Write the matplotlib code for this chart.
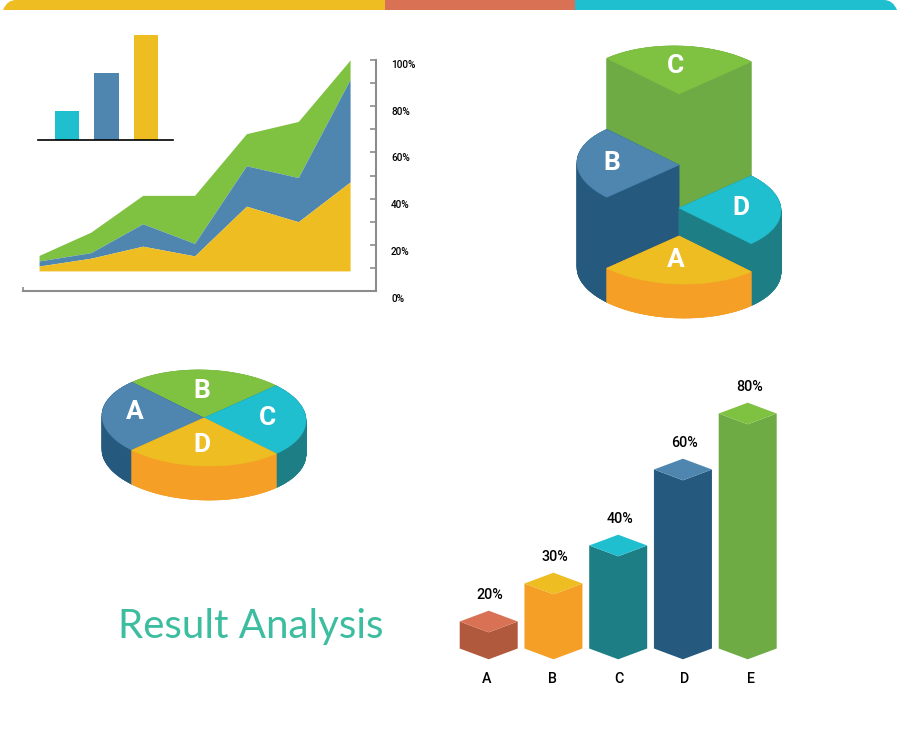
import numpy as np
import matplotlib
matplotlib.use('Agg')
import matplotlib.pyplot as plt
from matplotlib.collections import PolyCollection
from matplotlib.patches import Polygon, PathPatch
from matplotlib.path import Path

W, H = 900, 753

# palette
GREEN, GREEN_D = '#7fc241', '#6fab45'
BLUE, BLUE_D = '#4e86b0', '#255a7e'
CYAN, TEAL = '#20bfcf', '#1e7e85'
YELLOW, ORANGE = '#edbd21', '#f59f26'
RED, RED_D = '#d97255', '#b1593d'

# top strip
strip_edges = [4, 385, 575, 896]
strip_colors = [YELLOW, RED, CYAN]

# stacked area (cumulative %)
area_x = [0, 1, 2, 3, 4, 5, 6]
area_base = 8.7
area_yellow = [10.8, 14.2, 19.4, 15.2, 36.7, 30.0, 47.2]
area_blue = [13.0, 16.6, 29.1, 20.6, 54.2, 49.1, 91.6]
area_green = [15.4, 25.5, 41.4, 41.4, 68.1, 73.4, 100.0]
area_ticks = [0, 20, 40, 60, 80, 100]

# small inset bars
inset_values = [27, 63.5, 100]
inset_colors = [CYAN, BLUE, YELLOW]

# stepped pie (top right), clockwise from the front slice
step_labels = ['A', 'B', 'C', 'D']
step_heights = [34, 105, 176, 62]
step_shares = [25, 25, 25, 25]
step_tops = [YELLOW, BLUE, GREEN, CYAN]
step_sides = [ORANGE, BLUE_D, GREEN_D, TEAL]

# flat pie (middle left), clockwise from the front slice
flat_labels = ['D', 'A', 'B', 'C']
flat_shares = [25, 25, 25, 25]
flat_height = 34
flat_tops = [YELLOW, BLUE, GREEN, CYAN]
flat_sides = [ORANGE, BLUE_D, GREEN_D, TEAL]

# isometric bars
bar_cats = ['A', 'B', 'C', 'D', 'E']
bar_heights = [27, 65, 103, 179, 235]
bar_labels = ['20%', '30%', '40%', '60%', '80%']
bar_tops = [RED, YELLOW, CYAN, BLUE, GREEN]
bar_sides = [RED_D, ORANGE, TEAL, BLUE_D, GREEN_D]


def px_axes(fig, left, top, right, bottom):
    return fig.add_axes([left / W, 1 - bottom / H, (right - left) / W, (bottom - top) / H])


def sector(ax, cx, cy, rx, ry, a0, a1, height, top, side, shear=0.024):
    # a0..a1 are degrees clockwise on screen from +x, cy is the floor centre
    t = np.radians(np.linspace(a0, a1, 60))
    ex, ey = rx * np.cos(t), ry * np.sin(t)
    ey = ey + shear * ex
    arc = np.column_stack([cx + ex, cy + ey])
    up = np.array([0, -height])
    hub = np.array([cx, cy])

    outline = np.vstack([hub, arc])
    kw = dict(linewidth=0.4, zorder=3)
    ax.add_patch(Polygon(outline, facecolor=side, edgecolor=side, **kw))
    for end in (arc[0], arc[-1]):
        wall = [hub, end, end + up, hub + up]
        ax.add_patch(Polygon(wall, facecolor=side, edgecolor=side, **kw))
    # outer curved face, one quad per arc step so it does not self-overlap
    quads = [[arc[k], arc[k + 1], arc[k + 1] + up, arc[k] + up] for k in range(len(arc) - 1)]
    ax.add_collection(PolyCollection(quads, facecolors=side, edgecolors=side, **kw))
    ax.add_patch(Polygon(outline + up, facecolor=top, edgecolor=top, **kw))


plt.rcParams['font.family'] = ['Roboto', 'DejaVu Sans']

fig = plt.figure(figsize=(W / 100, H / 100), dpi=100, facecolor='white')

# canvas in pixel units for the drawn shapes
canvas = fig.add_axes([0, 0, 1, 1])
canvas.set_xlim(0, W)
canvas.set_ylim(H, 0)
canvas.axis('off')

# --- top strip ---
for i, color in enumerate(strip_colors):
    x0, x1 = strip_edges[i], strip_edges[i + 1]
    if i == 0:
        verts = [(x0 - 1, 10), (x0 + 3, 0), (x0 + 12, 0), (x1, 0), (x1, 10), (x0 - 1, 10)]
        codes = [Path.MOVETO, Path.CURVE3, Path.CURVE3, Path.LINETO, Path.LINETO, Path.CLOSEPOLY]
    elif i == 2:
        verts = [(x0, 10), (x0, 0), (x1 - 12, 0), (x1 - 3, 0), (x1 + 1, 10), (x0, 10)]
        codes = [Path.MOVETO, Path.LINETO, Path.LINETO, Path.CURVE3, Path.CURVE3, Path.CLOSEPOLY]
    else:
        verts = [(x0, 10), (x0, 0), (x1, 0), (x1, 10), (x0, 10)]
        codes = [Path.MOVETO, Path.LINETO, Path.LINETO, Path.LINETO, Path.CLOSEPOLY]
    canvas.add_patch(PathPatch(Path(verts, codes), facecolor=color, edgecolor='none'))

# --- stacked area ---
ax = px_axes(fig, 23, 60, 376, 291)
ax.patch.set_alpha(0)
ax.set_xlim(-0.31, 6.5)
ax.set_ylim(0, 100)
ax.fill_between(area_x, area_blue, area_green, color=GREEN, linewidth=0)
ax.fill_between(area_x, area_yellow, area_blue, color=BLUE, linewidth=0)
ax.fill_between(area_x, area_base, area_yellow, color=YELLOW, linewidth=0)
for s in ('top', 'left'):
    ax.spines[s].set_visible(False)
for s in ('right', 'bottom'):
    ax.spines[s].set_color('#8c8c8c')
    ax.spines[s].set_linewidth(1.5)
ax.yaxis.tick_right()
ax.set_yticks(np.arange(10, 101, 10))
ax.set_yticklabels([])
ax.tick_params(axis='y', direction='in', length=4, width=1.2, color='#8c8c8c')
ax.set_xticks([-0.31])
ax.set_xticklabels([])
ax.tick_params(axis='x', direction='in', length=3, width=1.2, color='#8c8c8c')
for v in area_ticks:
    ax.annotate(f'{v}%', (1, v), xycoords=('axes fraction', 'data'),
                xytext=(10.8, -(5 + 0.5 * (100 - v) / 20) * 0.72), textcoords='offset points',
                ha='left', va='center', fontsize=7.2, fontweight='medium', color='black')

# --- inset bars ---
ins = px_axes(fig, 38, 35, 173, 139.5)
ins.patch.set_alpha(0)
ins.set_xlim(-0.73, 2.68)
ins.set_ylim(0, 100)
ins.bar(range(len(inset_values)), inset_values, width=0.61, color=inset_colors)
for s in ('top', 'left', 'right'):
    ins.spines[s].set_visible(False)
ins.spines['bottom'].set_linewidth(1.2)
ins.set_xticks([])
ins.set_yticks([])

# --- stepped pie ---
for i in [2, 1, 3, 0]:  # back to front
    start = 45 + sum(step_shares[:i]) * 3.6
    sector(canvas, 679, 270, 102, 48, start, start + step_shares[i] * 3.6,
           step_heights[i], step_tops[i], step_sides[i])
step_pos = [(676, 260), (612, 163), (675, 66), (741, 208)]
for name, (x, y) in zip(step_labels, step_pos):
    canvas.text(x, y, name, color='white', fontsize=19, fontweight='bold',
                ha='center', va='center', zorder=5)

# --- flat pie ---
for i in [2, 1, 3, 0]:
    start = 45 + sum(flat_shares[:i]) * 3.6
    sector(canvas, 204, 452, 102, 48, start, start + flat_shares[i] * 3.6,
           flat_height, flat_tops[i], flat_sides[i])
flat_pos = [(202, 445), (135, 412), (202, 391), (268, 418)]
for name, (x, y) in zip(flat_labels, flat_pos):
    canvas.text(x, y, name, color='white', fontsize=19, fontweight='bold',
                ha='center', va='center', zorder=5)

# --- isometric bars ---
floor = 659.3
for i, h in enumerate(bar_heights):
    cx = 488.7 + i * 64.75
    hw, dy = 29, 10.8
    side = [(cx - hw, floor - dy), (cx, floor), (cx + hw, floor - dy),
            (cx + hw, floor - dy - h), (cx, floor - h), (cx - hw, floor - dy - h)]
    canvas.add_patch(Polygon(side, facecolor=bar_sides[i], edgecolor='none', zorder=3))
    top = [(cx - hw, floor - dy - h), (cx, floor - h),
           (cx + hw, floor - dy - h), (cx, floor - 2 * dy - h)]
    canvas.add_patch(Polygon(top, facecolor=bar_tops[i], edgecolor='none', zorder=4))
    canvas.text(cx + 1.5, floor - 2 * dy - h - 15.5, bar_labels[i], fontsize=10.3,
                fontweight='medium', ha='center', va='center', color='black')
    canvas.text(cx - 2.5 + i * 1.45, 679, bar_cats[i], fontsize=10.3, fontweight='medium',
                ha='center', va='center', color='black')

# --- title ---
canvas.text(118, 638, 'Result Analysis', fontsize=29, color='#3cbda0',
            family=['Lato', 'DejaVu Sans'], ha='left', va='baseline')

fig.savefig('out.png', dpi=100, facecolor='white')
plt.close(fig)
